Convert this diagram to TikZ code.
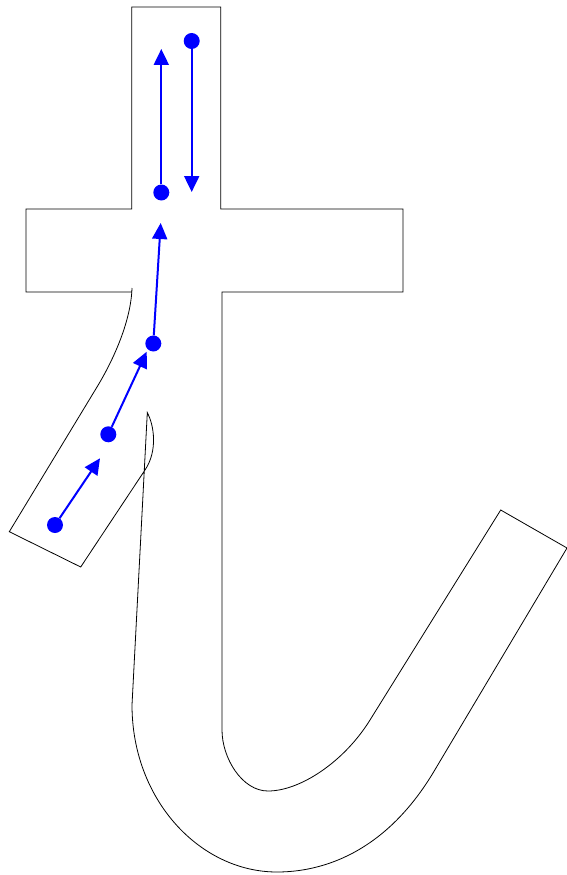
\documentclass[tikz,border=0pt]{standalone}
\usetikzlibrary{arrows.meta}
\begin{document}
\begin{tikzpicture}[x=1pt,y=-1pt,
  outline/.style={draw=black,line width=0.8pt,line join=miter},
  dot/.style={circle,fill=blue,inner sep=0pt,minimum size=16pt},
  flow/.style={draw=blue,line width=2pt,-{Triangle[length=16pt,width=15pt]}}]
\useasboundingbox (0,0) rectangle (567,875);
\draw[outline] (132,288) .. controls (131,320) and (114.6,358) .. (97,387) -- (9.3,531.7) -- (80.7,567) -- (145,470)
  .. controls (158,450.7) and (154,425) .. (147.3,412.7) -- (132,705)
  .. controls (132,800) and (200,872) .. (277,872)
  .. controls (321,872) and (384,854) .. (433,773) -- (567,548) -- (500.7,510) -- (370,720)
  .. controls (344,762) and (300,791) .. (268,791)
  .. controls (242,791) and (222,758) .. (222,730) -- (222,292) -- (403,292) -- (403,209)
  -- (220.7,209) -- (220.7,7) -- (131.7,7) -- (131.7,209) -- (26,209) -- (26,292) -- (131.7,292);
\node[dot] (d1) at (191.7,41) {};
\node[dot] (d2) at (161.3,192.5) {};
\node[dot] (d3) at (153.3,343.5) {};
\node[dot] (d4) at (108.3,434.3) {};
\node[dot] (d5) at (55,525) {};
\coordinate (t1) at (161.3,49);
\coordinate (t2) at (191.7,192);
\coordinate (t3) at (160.7,223);
\coordinate (t4) at (146.7,351.7);
\coordinate (t5) at (100,458.3);
\draw[flow] (d2) -- (t1);
\draw[flow] (d1) -- (t2);
\draw[flow] (d3) -- (t3);
\draw[flow] (d4) -- (t4);
\draw[flow] (d5) -- (t5);
\end{tikzpicture}
\end{document}
